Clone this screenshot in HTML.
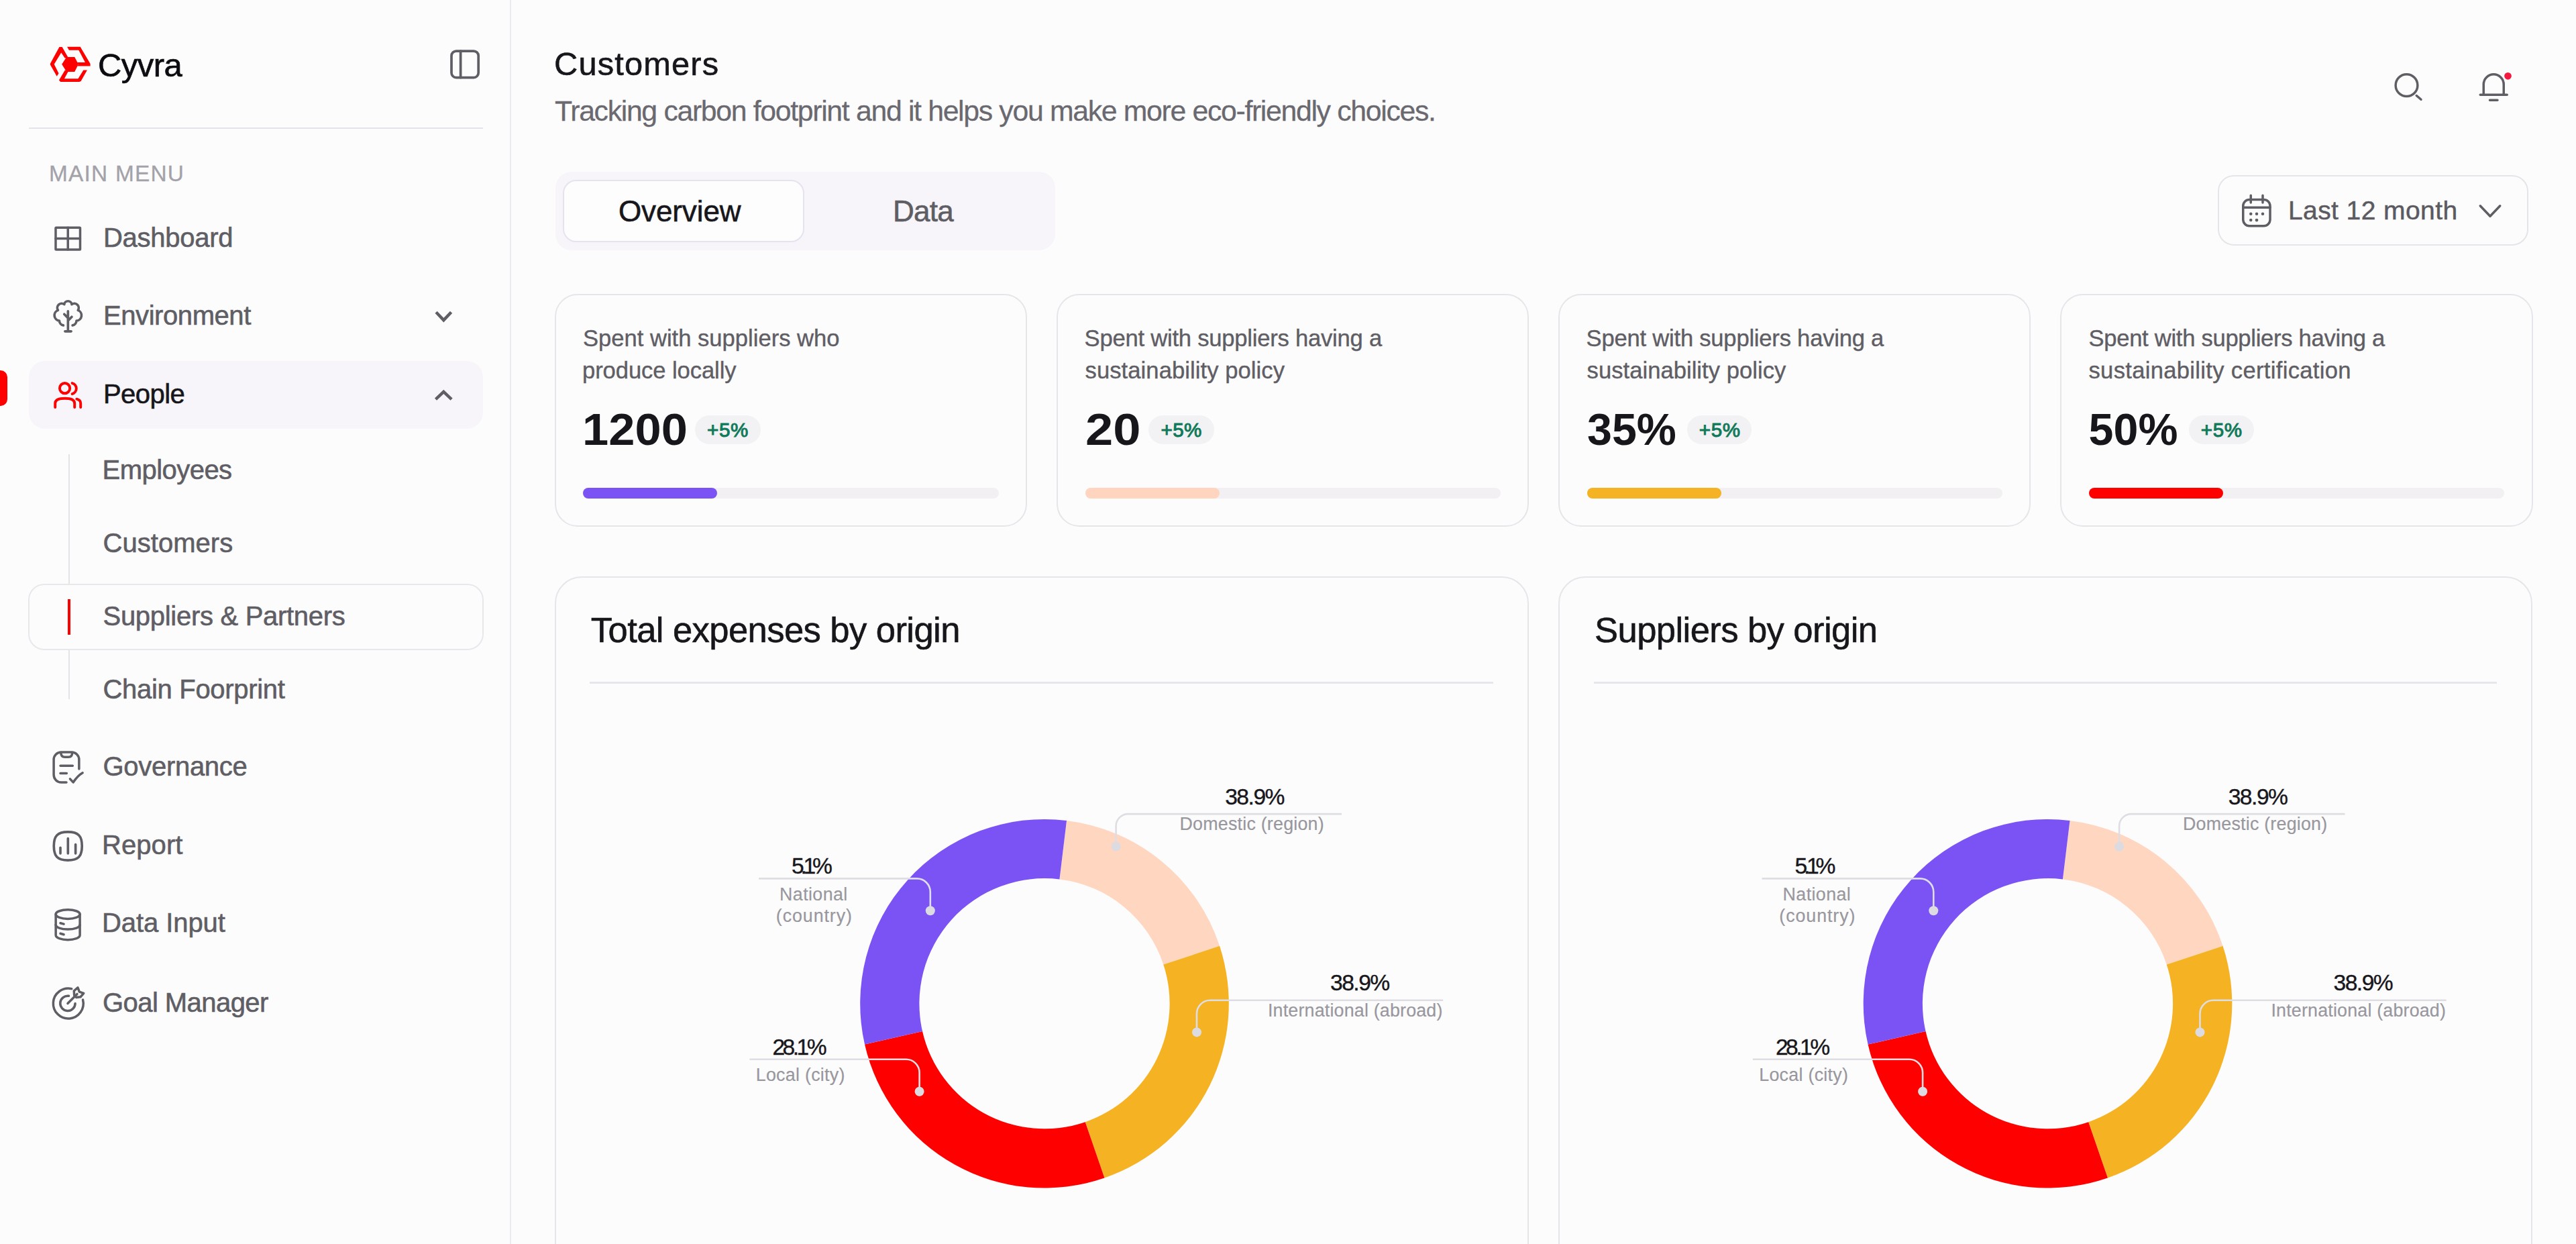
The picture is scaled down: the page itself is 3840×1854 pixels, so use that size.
<!DOCTYPE html>
<html><head><meta charset="utf-8"><title>Cyvra - Customers</title>
<style>
html,body{margin:0;padding:0;}
body{width:1920px;height:927px;overflow:hidden;background:#fdfcfd;font-family:"Liberation Sans",sans-serif;position:relative;}
@media (min-width:2500px){html{zoom:2;}}
.t{position:absolute;white-space:nowrap;}
.r{position:absolute;}
.badge{display:inline-block;vertical-align:top;margin-left:7px;margin-top:-1px;height:21.6px;line-height:21.6px;padding:0 9.5px;border-radius:11px;background:#f2f1f4;color:#0f7a59;font-size:15.4px;font-weight:700;letter-spacing:0.3px;position:relative;top:2px}
</style></head><body>
<div class="r" style="left:380.00px;top:0.00px;width:1.20px;height:927.00px;background:#ebeaee"></div>
<svg class="r" style="left:30px;top:25px;width:120px;height:58px" viewBox="0 0 2574 1244">
<g fill="#ff0000">
<polygon points="305,215 350,215 445,380 395,395 335,305 222,490 295,635 265,685 160,500 160,480"/>
<polygon points="345,490 420,375 550,375 610,490 550,612 420,612"/>
<polygon points="430,212 640,212 800,482 800,520 595,520 610,490 590,460 718,460 615,265 460,265"/>
<polygon points="300,745 395,585 445,612 385,720 605,720 690,585 750,585 650,762 625,772 325,772"/>
</g></svg>
<div class="t" id="e_Cyvra" style="left:73.00px;top:36.51px;font-size:24.50px;line-height:24.50px;color:#0d0c11;font-weight:400;letter-spacing:-0.276px;-webkit-text-stroke:0.35px #0d0c11;">Cyvra</div>
<div class="r" style="left:21.50px;top:95.00px;width:338.50px;height:1.20px;background:#e4e3e8"></div>
<div class="t" id="e_MAIN_MENU" style="left:36.50px;top:120.86px;font-size:16.70px;line-height:16.70px;color:#a3a2a8;font-weight:400;letter-spacing:0.617px;-webkit-text-stroke:0.15px #a3a2a8;">MAIN MENU</div>
<div class="r" style="left:21.65px;top:269.10px;width:338.35px;height:50.40px;background:#f7f5f9;border-radius:12px"></div>
<div class="r" style="left:0.00px;top:275.90px;width:5.30px;height:26.80px;background:#ff0000;border-radius:0 5px 5px 0"></div>
<div class="r" style="left:50.90px;top:338.70px;width:1.20px;height:182.30px;background:#e4e3e8"></div>
<div class="r" style="left:20.75px;top:435.00px;width:339.75px;height:49.50px;background:#fdfcfd;border:1.2px solid #e9e7ec;border-radius:12px;box-sizing:border-box"></div>
<div class="r" style="left:50.50px;top:446.50px;width:1.80px;height:26.50px;background:#ff0000"></div>
<div class="t" id="e_side_Dashboard" style="left:77.00px;top:166.82px;font-size:20.00px;line-height:20.00px;color:#5f5e65;font-weight:400;letter-spacing:-0.138px;-webkit-text-stroke:0.3px #5f5e65;">Dashboard</div>
<div class="t" id="e_side_Environment" style="left:77.00px;top:224.87px;font-size:20.00px;line-height:20.00px;color:#5f5e65;font-weight:400;letter-spacing:-0.213px;-webkit-text-stroke:0.3px #5f5e65;">Environment</div>
<div class="t" id="e_side_People" style="left:77.00px;top:283.57px;font-size:20.00px;line-height:20.00px;color:#17161b;font-weight:400;letter-spacing:-0.284px;-webkit-text-stroke:0.3px #17161b;">People</div>
<div class="t" id="e_side_Employees" style="left:76.25px;top:340.07px;font-size:20.00px;line-height:20.00px;color:#5f5e65;font-weight:400;letter-spacing:-0.266px;-webkit-text-stroke:0.3px #5f5e65;">Employees</div>
<div class="t" id="e_side_Customers" style="left:76.75px;top:394.32px;font-size:20.00px;line-height:20.00px;color:#5f5e65;font-weight:400;letter-spacing:0.022px;-webkit-text-stroke:0.3px #5f5e65;">Customers</div>
<div class="t" id="e_side_Suppliers_amp_Partners" style="left:76.75px;top:448.82px;font-size:20.00px;line-height:20.00px;color:#5f5e65;font-weight:400;letter-spacing:-0.147px;-webkit-text-stroke:0.3px #5f5e65;">Suppliers &amp; Partners</div>
<div class="t" id="e_side_Chain_Foorprint" style="left:76.75px;top:503.57px;font-size:20.00px;line-height:20.00px;color:#5f5e65;font-weight:400;letter-spacing:-0.152px;-webkit-text-stroke:0.3px #5f5e65;">Chain Foorprint</div>
<div class="t" id="e_side_Governance" style="left:76.75px;top:561.07px;font-size:20.00px;line-height:20.00px;color:#5f5e65;font-weight:400;letter-spacing:-0.149px;-webkit-text-stroke:0.3px #5f5e65;">Governance</div>
<div class="t" id="e_side_Report" style="left:76.00px;top:619.37px;font-size:20.00px;line-height:20.00px;color:#5f5e65;font-weight:400;letter-spacing:0.032px;-webkit-text-stroke:0.3px #5f5e65;">Report</div>
<div class="t" id="e_side_Data_Input" style="left:76.00px;top:677.67px;font-size:20.00px;line-height:20.00px;color:#5f5e65;font-weight:400;letter-spacing:-0.038px;-webkit-text-stroke:0.3px #5f5e65;">Data Input</div>
<div class="t" id="e_side_Goal_Manager" style="left:76.50px;top:737.07px;font-size:20.00px;line-height:20.00px;color:#5f5e65;font-weight:400;letter-spacing:-0.278px;-webkit-text-stroke:0.3px #5f5e65;">Goal Manager</div>
<div class="t" id="e_title" style="left:413.00px;top:35.60px;font-size:24.40px;line-height:24.40px;color:#17161b;font-weight:400;letter-spacing:0.578px;-webkit-text-stroke:0.3px #17161b;">Customers</div>
<div class="t" id="e_subtitle" style="left:413.50px;top:72.13px;font-size:21.40px;line-height:21.40px;color:#6a6970;font-weight:400;letter-spacing:-0.668px;-webkit-text-stroke:0.15px #6a6970;">Tracking carbon footprint and it helps you make more eco-friendly choices.</div>
<div class="r" style="left:413.75px;top:128.00px;width:372.75px;height:58.25px;background:#f7f5f9;border-radius:12px"></div>
<div class="r" style="left:419.50px;top:133.75px;width:179.75px;height:46.75px;background:#fefdfe;border:1.3px solid #e6e3f0;border-radius:10px;box-sizing:border-box"></div>
<div class="t" id="e_Overview" style="left:461.00px;top:146.38px;font-size:22.00px;line-height:22.00px;color:#17161b;font-weight:400;letter-spacing:-0.062px;-webkit-text-stroke:0.3px #17161b;">Overview</div>
<div class="t" id="e_Data" style="left:665.50px;top:146.38px;font-size:22.00px;line-height:22.00px;color:#5e5d64;font-weight:400;letter-spacing:-0.359px;-webkit-text-stroke:0.3px #5e5d64;">Data</div>
<div class="r" style="left:1653.00px;top:130.60px;width:231.60px;height:52.50px;background:#fdfcfd;border:1.2px solid #e6e4ea;border-radius:12px;box-sizing:border-box"></div>
<div class="t" id="e_Last_12_month" style="left:1705.50px;top:146.99px;font-size:19.50px;line-height:19.50px;color:#5b5a61;font-weight:400;letter-spacing:0.207px;-webkit-text-stroke:0.25px #5b5a61;">Last 12 month</div>
<div class="r" style="left:413.45px;top:218.80px;width:352.10px;height:173.60px;background:#fdfcfd;border:1.3px solid #e7e5ea;border-radius:17px;box-sizing:border-box"></div>
<div class="t" id="e_k0l1" style="left:434.50px;top:243.56px;font-size:17.30px;line-height:17.30px;color:#5f5e65;font-weight:400;letter-spacing:0.000px;-webkit-text-stroke:0.2px #5f5e65;">Spent with suppliers who</div>
<div class="t" id="e_k0l2" style="left:434.00px;top:267.56px;font-size:17.30px;line-height:17.30px;color:#5f5e65;font-weight:400;letter-spacing:-0.038px;-webkit-text-stroke:0.2px #5f5e65;">produce locally</div>
<div class="t" id="e_k0v" style="left:433.80px;top:303.70px;font-size:33.20px;line-height:33.20px;color:#17161b;font-weight:700;letter-spacing:0.000px;transform:scaleX(1.0620);transform-origin:0 0;">1200</div>
<div class="r" style="left:518.00px;top:309.60px;width:49.00px;height:21.60px;background:#f2f1f4;border-radius:11px"></div>
<div class="t" id="e_k0b" style="left:527.00px;top:312.77px;font-size:14.80px;line-height:14.80px;color:#0f7a59;font-weight:400;letter-spacing:0.328px;-webkit-text-stroke:0.5px #0f7a59">+5%</div>
<div class="r" style="left:434.70px;top:363.50px;width:309.60px;height:8.00px;background:#f2f0f3;border-radius:4px"></div>
<div class="r" style="left:434.70px;top:363.50px;width:100.00px;height:8.00px;background:#7b53f4;border-radius:4px"></div>
<div class="r" style="left:787.50px;top:218.80px;width:352.10px;height:173.60px;background:#fdfcfd;border:1.3px solid #e7e5ea;border-radius:17px;box-sizing:border-box"></div>
<div class="t" id="e_k1l1" style="left:808.30px;top:243.56px;font-size:17.30px;line-height:17.30px;color:#5f5e65;font-weight:400;letter-spacing:-0.111px;-webkit-text-stroke:0.2px #5f5e65;">Spent with suppliers having a</div>
<div class="t" id="e_k1l2" style="left:808.80px;top:267.56px;font-size:17.30px;line-height:17.30px;color:#5f5e65;font-weight:400;letter-spacing:0.035px;-webkit-text-stroke:0.2px #5f5e65;">sustainability policy</div>
<div class="t" id="e_k1v" style="left:809.00px;top:303.70px;font-size:33.20px;line-height:33.20px;color:#17161b;font-weight:700;letter-spacing:0.000px;transform:scaleX(1.1159);transform-origin:0 0;">20</div>
<div class="r" style="left:856.00px;top:309.60px;width:48.75px;height:21.60px;background:#f2f1f4;border-radius:11px"></div>
<div class="t" id="e_k1b" style="left:865.30px;top:312.77px;font-size:14.80px;line-height:14.80px;color:#0f7a59;font-weight:400;letter-spacing:0.141px;-webkit-text-stroke:0.5px #0f7a59">+5%</div>
<div class="r" style="left:808.75px;top:363.50px;width:309.60px;height:8.00px;background:#f2f0f3;border-radius:4px"></div>
<div class="r" style="left:808.75px;top:363.50px;width:100.00px;height:8.00px;background:#ffd5c0;border-radius:4px"></div>
<div class="r" style="left:1161.55px;top:218.80px;width:352.10px;height:173.60px;background:#fdfcfd;border:1.3px solid #e7e5ea;border-radius:17px;box-sizing:border-box"></div>
<div class="t" id="e_k2l1" style="left:1182.30px;top:243.56px;font-size:17.30px;line-height:17.30px;color:#5f5e65;font-weight:400;letter-spacing:-0.108px;-webkit-text-stroke:0.2px #5f5e65;">Spent with suppliers having a</div>
<div class="t" id="e_k2l2" style="left:1182.80px;top:267.56px;font-size:17.30px;line-height:17.30px;color:#5f5e65;font-weight:400;letter-spacing:0.018px;-webkit-text-stroke:0.2px #5f5e65;">sustainability policy</div>
<div class="t" id="e_k2v" style="left:1183.00px;top:303.70px;font-size:33.20px;line-height:33.20px;color:#17161b;font-weight:700;letter-spacing:0.000px;transform:scaleX(1.0000);transform-origin:0 0;">35%</div>
<div class="r" style="left:1257.25px;top:309.60px;width:48.35px;height:21.60px;background:#f2f1f4;border-radius:11px"></div>
<div class="t" id="e_k2b" style="left:1266.40px;top:312.77px;font-size:14.80px;line-height:14.80px;color:#0f7a59;font-weight:400;letter-spacing:0.328px;-webkit-text-stroke:0.5px #0f7a59">+5%</div>
<div class="r" style="left:1182.80px;top:363.50px;width:309.60px;height:8.00px;background:#f2f0f3;border-radius:4px"></div>
<div class="r" style="left:1182.80px;top:363.50px;width:100.00px;height:8.00px;background:#f5b323;border-radius:4px"></div>
<div class="r" style="left:1535.70px;top:218.80px;width:352.10px;height:173.60px;background:#fdfcfd;border:1.3px solid #e7e5ea;border-radius:17px;box-sizing:border-box"></div>
<div class="t" id="e_k3l1" style="left:1556.75px;top:243.56px;font-size:17.30px;line-height:17.30px;color:#5f5e65;font-weight:400;letter-spacing:-0.142px;-webkit-text-stroke:0.2px #5f5e65;">Spent with suppliers having a</div>
<div class="t" id="e_k3l2" style="left:1556.75px;top:267.56px;font-size:17.30px;line-height:17.30px;color:#5f5e65;font-weight:400;letter-spacing:0.158px;-webkit-text-stroke:0.2px #5f5e65;">sustainability certification</div>
<div class="t" id="e_k3v" style="left:1556.80px;top:303.70px;font-size:33.20px;line-height:33.20px;color:#17161b;font-weight:700;letter-spacing:0.000px;transform:scaleX(1.0000);transform-origin:0 0;">50%</div>
<div class="r" style="left:1631.25px;top:309.60px;width:48.75px;height:21.60px;background:#f2f1f4;border-radius:11px"></div>
<div class="t" id="e_k3b" style="left:1640.40px;top:312.77px;font-size:14.80px;line-height:14.80px;color:#0f7a59;font-weight:400;letter-spacing:0.328px;-webkit-text-stroke:0.5px #0f7a59">+5%</div>
<div class="r" style="left:1556.95px;top:363.50px;width:309.60px;height:8.00px;background:#f2f0f3;border-radius:4px"></div>
<div class="r" style="left:1556.95px;top:363.50px;width:100.00px;height:8.00px;background:#ff0000;border-radius:4px"></div>
<div class="r" style="left:413.45px;top:429.50px;width:725.95px;height:600.00px;background:#fdfcfd;border:1.3px solid #e7e5ea;border-radius:20px;box-sizing:border-box"></div>
<div class="t" id="e_ctitle" style="left:440.40px;top:456.49px;font-size:26.30px;line-height:26.30px;color:#17161b;font-weight:400;letter-spacing:-0.297px;-webkit-text-stroke:0.3px #17161b;">Total expenses by origin</div>
<div class="r" style="left:439.70px;top:508.20px;width:673.45px;height:1.20px;background:#e8e6ec"></div>
<div class="r" style="left:1161.55px;top:429.50px;width:725.95px;height:600.00px;background:#fdfcfd;border:1.3px solid #e7e5ea;border-radius:20px;box-sizing:border-box"></div>
<div class="t" id="e_ctitle" style="left:1188.50px;top:456.49px;font-size:26.30px;line-height:26.30px;color:#17161b;font-weight:400;letter-spacing:-0.297px;-webkit-text-stroke:0.3px #17161b;">Suppliers by origin</div>
<div class="r" style="left:1187.80px;top:508.20px;width:673.45px;height:1.20px;background:#e8e6ec"></div>
<svg class="r" style="left:0;top:0;width:1920px;height:927px" viewBox="0 0 1920 927"><path d="M795.007,611.445 A137.4,137.4 0 0 1 909.026,704.935 L867.132,718.709 A93.3,93.3 0 0 0 789.709,655.226 Z" fill="#ffd6c0"/><path d="M909.026,704.935 A137.4,137.4 0 0 1 823.233,877.764 L808.876,836.067 A93.3,93.3 0 0 0 867.132,718.709 Z" fill="#f5b324"/><path d="M823.233,877.764 A137.4,137.4 0 0 1 644.514,778.291 L687.519,768.520 A93.3,93.3 0 0 0 808.876,836.067 Z" fill="#ff0000"/><path d="M644.514,778.291 A137.4,137.4 0 0 1 795.007,611.445 L789.709,655.226 A93.3,93.3 0 0 0 687.519,768.520 Z" fill="#7b53f4"/><g fill="none" stroke="#dedde3" stroke-width="1.3">
<path d="M831.8,630.9 V615.55 A9,9 0 0 1 840.8,606.55 H1000.0" />
<path d="M892.0,769.2 V755.4 A10,10 0 0 1 902.0,745.4 H1075.6" />
<path d="M693.4,678.6 V664.7 A10,10 0 0 0 683.4,654.7 H565.5" />
<path d="M685.3,813.35 V799.4 A10,10 0 0 0 675.3,789.4 H558.7" />
</g><circle cx="831.8" cy="630.9" r="3.5" fill="#dcdbe2"/><circle cx="892.0" cy="769.2" r="3.5" fill="#dcdbe2"/><circle cx="693.4" cy="678.6" r="3.5" fill="#dcdbe2"/><circle cx="685.3" cy="813.35" r="3.5" fill="#dcdbe2"/></svg>
<div class="t" id="e_p1" style="left:785.40px;width:300px;text-align:center;top:585.38px;font-size:16.80px;line-height:16.80px;color:#18171c;font-weight:400;letter-spacing:-0.734px;text-indent:-0.734px;-webkit-text-stroke:0.2px #18171c;">38.9%</div>
<div class="t" id="e_l1" style="left:783.05px;width:300px;text-align:center;top:607.56px;font-size:13.40px;line-height:13.40px;color:#98979d;font-weight:400;letter-spacing:0.113px;text-indent:0.113px;-webkit-text-stroke:0.1px #98979d;">Domestic (region)</div>
<div class="t" id="e_p2" style="left:863.80px;width:300px;text-align:center;top:724.08px;font-size:16.80px;line-height:16.80px;color:#18171c;font-weight:400;letter-spacing:-0.766px;text-indent:-0.766px;-webkit-text-stroke:0.2px #18171c;">38.9%</div>
<div class="t" id="e_l2" style="left:860.10px;width:300px;text-align:center;top:746.36px;font-size:13.40px;line-height:13.40px;color:#98979d;font-weight:400;letter-spacing:0.101px;text-indent:0.101px;-webkit-text-stroke:0.1px #98979d;">International (abroad)</div>
<div class="t" id="e_p3" style="left:455.20px;width:300px;text-align:center;top:637.03px;font-size:16.80px;line-height:16.80px;color:#18171c;font-weight:400;letter-spacing:-2.636px;text-indent:-2.636px;-webkit-text-stroke:0.2px #18171c;">5.1%</div>
<div class="t" id="e_l3" style="left:456.35px;width:300px;text-align:center;top:659.76px;font-size:13.40px;line-height:13.40px;color:#98979d;font-weight:400;letter-spacing:0.201px;text-indent:0.201px;-webkit-text-stroke:0.1px #98979d;">National</div>
<div class="t" id="e_l4" style="left:456.70px;width:300px;text-align:center;top:675.91px;font-size:13.40px;line-height:13.40px;color:#98979d;font-weight:400;letter-spacing:0.466px;text-indent:0.466px;-webkit-text-stroke:0.1px #98979d;">(country)</div>
<div class="t" id="e_p4" style="left:446.00px;width:300px;text-align:center;top:771.78px;font-size:16.80px;line-height:16.80px;color:#18171c;font-weight:400;letter-spacing:-1.750px;text-indent:-1.750px;-webkit-text-stroke:0.2px #18171c;">28.1%</div>
<div class="t" id="e_l5" style="left:446.55px;width:300px;text-align:center;top:794.46px;font-size:13.40px;line-height:13.40px;color:#98979d;font-weight:400;letter-spacing:0.147px;text-indent:0.147px;-webkit-text-stroke:0.1px #98979d;">Local (city)</div>
<svg class="r" style="left:0;top:0;width:1920px;height:927px" viewBox="0 0 1920 927"><path d="M1542.757,611.445 A137.4,137.4 0 0 1 1656.776,704.935 L1614.882,718.709 A93.3,93.3 0 0 0 1537.459,655.226 Z" fill="#ffd6c0"/><path d="M1656.776,704.935 A137.4,137.4 0 0 1 1570.983,877.764 L1556.626,836.067 A93.3,93.3 0 0 0 1614.882,718.709 Z" fill="#f5b324"/><path d="M1570.983,877.764 A137.4,137.4 0 0 1 1392.264,778.291 L1435.269,768.520 A93.3,93.3 0 0 0 1556.626,836.067 Z" fill="#ff0000"/><path d="M1392.264,778.291 A137.4,137.4 0 0 1 1542.757,611.445 L1537.459,655.226 A93.3,93.3 0 0 0 1435.269,768.520 Z" fill="#7b53f4"/><g fill="none" stroke="#dedde3" stroke-width="1.3">
<path d="M1579.55,630.9 V615.55 A9,9 0 0 1 1588.55,606.55 H1747.75" />
<path d="M1639.75,769.2 V755.4 A10,10 0 0 1 1649.75,745.4 H1823.35" />
<path d="M1441.15,678.6 V664.7 A10,10 0 0 0 1431.15,654.7 H1313.25" />
<path d="M1433.05,813.35 V799.4 A10,10 0 0 0 1423.05,789.4 H1306.45" />
</g><circle cx="1579.55" cy="630.9" r="3.5" fill="#dcdbe2"/><circle cx="1639.75" cy="769.2" r="3.5" fill="#dcdbe2"/><circle cx="1441.15" cy="678.6" r="3.5" fill="#dcdbe2"/><circle cx="1433.05" cy="813.35" r="3.5" fill="#dcdbe2"/></svg>
<div class="t" id="e_p1" style="left:1533.15px;width:300px;text-align:center;top:585.38px;font-size:16.80px;line-height:16.80px;color:#18171c;font-weight:400;letter-spacing:-0.734px;text-indent:-0.734px;-webkit-text-stroke:0.2px #18171c;">38.9%</div>
<div class="t" id="e_l1" style="left:1530.80px;width:300px;text-align:center;top:607.56px;font-size:13.40px;line-height:13.40px;color:#98979d;font-weight:400;letter-spacing:0.113px;text-indent:0.113px;-webkit-text-stroke:0.1px #98979d;">Domestic (region)</div>
<div class="t" id="e_p2" style="left:1611.55px;width:300px;text-align:center;top:724.08px;font-size:16.80px;line-height:16.80px;color:#18171c;font-weight:400;letter-spacing:-0.766px;text-indent:-0.766px;-webkit-text-stroke:0.2px #18171c;">38.9%</div>
<div class="t" id="e_l2" style="left:1607.85px;width:300px;text-align:center;top:746.36px;font-size:13.40px;line-height:13.40px;color:#98979d;font-weight:400;letter-spacing:0.101px;text-indent:0.101px;-webkit-text-stroke:0.1px #98979d;">International (abroad)</div>
<div class="t" id="e_p3" style="left:1202.95px;width:300px;text-align:center;top:637.03px;font-size:16.80px;line-height:16.80px;color:#18171c;font-weight:400;letter-spacing:-2.636px;text-indent:-2.636px;-webkit-text-stroke:0.2px #18171c;">5.1%</div>
<div class="t" id="e_l3" style="left:1204.10px;width:300px;text-align:center;top:659.76px;font-size:13.40px;line-height:13.40px;color:#98979d;font-weight:400;letter-spacing:0.201px;text-indent:0.201px;-webkit-text-stroke:0.1px #98979d;">National</div>
<div class="t" id="e_l4" style="left:1204.45px;width:300px;text-align:center;top:675.91px;font-size:13.40px;line-height:13.40px;color:#98979d;font-weight:400;letter-spacing:0.466px;text-indent:0.466px;-webkit-text-stroke:0.1px #98979d;">(country)</div>
<div class="t" id="e_p4" style="left:1193.75px;width:300px;text-align:center;top:771.78px;font-size:16.80px;line-height:16.80px;color:#18171c;font-weight:400;letter-spacing:-1.750px;text-indent:-1.750px;-webkit-text-stroke:0.2px #18171c;">28.1%</div>
<div class="t" id="e_l5" style="left:1194.30px;width:300px;text-align:center;top:794.46px;font-size:13.40px;line-height:13.40px;color:#98979d;font-weight:400;letter-spacing:0.147px;text-indent:0.147px;-webkit-text-stroke:0.1px #98979d;">Local (city)</div>
<svg class="r" style="left:0;top:0;width:1920px;height:927px;z-index:5" viewBox="0 0 1920 927" fill="none" stroke-linecap="round" stroke-linejoin="round"><g transform="translate(320.0000,25.0000) scale(0.023310)" stroke="#5f5e65" stroke-width="80"><rect x="708" y="558" width="862" height="848" rx="150"/><path d="M1000 558V1406"/></g><g transform="translate(0.0000,150.0000) scale(0.125000)" stroke="#5f5e65" stroke-width="14"><rect x="332" y="157" width="146" height="131" rx="3"/><path d="M405 157V288M332 222H478"/></g><g transform="translate(30.0000,215.0000) scale(0.028137)" stroke="#5f5e65" stroke-width="65"><path d="M735 600V1135M655 1135H820M635 680L735 780M835 750L735 850"/><path d="M612 975A130 130 0 0 1 505 855A145 145 0 0 1 470 575A115 115 0 0 1 635 420A101 101 0 0 1 835 420A115 115 0 0 1 1000 575A145 145 0 0 1 960 855A130 130 0 0 1 855 975"/></g><g transform="translate(0.0000,150.0000) scale(0.160756)" stroke="#5f5e65" stroke-width="14"><path stroke-linecap="butt" stroke-linejoin="miter" d="M2022 514L2057 551L2092 514"/></g><g transform="translate(30.0000,277.5000) scale(0.028137)" stroke="#ff0000" stroke-width="70"><circle cx="650" cy="420" r="135"/><path d="M845 285A147 147 0 0 1 845 570"/><path d="M395 925V820C395 740 480 690 652 690C825 690 910 740 910 820V925"/><path d="M965 705C1040 725 1070 760 1070 820V925"/></g><g transform="translate(0.0000,260.0000) scale(0.151396)" stroke="#5f5e65" stroke-width="15"><path stroke-linecap="butt" stroke-linejoin="miter" d="M2145 248L2184 211L2223 248"/></g><g transform="translate(30.0000,550.0000) scale(0.038986)" stroke="#5f5e65" stroke-width="45"><path d="M500 845H400A142 142 0 0 1 258 703V412A142 142 0 0 1 400 270H600A142 142 0 0 1 742 412V590"/><path d="M395 275C395 330 420 362 470 362H540C590 362 612 330 612 275"/><path d="M385 530H620M385 672H505"/><path d="M570 780L630 845C690 760 740 705 810 665"/></g><g transform="translate(30.0000,610.0000) scale(0.038986)" stroke="#5f5e65" stroke-width="47"><path d="M260 526C260 330 330 255 529 255S798 330 798 526S728 797 529 797S260 722 260 526Z"/><path d="M385 555V665M530 380V665M675 495V665"/></g><g transform="translate(30.0000,670.0000) scale(0.038986)" stroke="#5f5e65" stroke-width="45"><ellipse cx="527.5" cy="290" rx="230.5" ry="88"/><path d="M297 290V690A230.5 88 0 0 0 758 690V290"/><path d="M297 490A230.5 88 0 0 0 758 490"/><path d="M385 458L450 476M385 658L450 676"/></g><g transform="translate(30.0000,730.0000) scale(0.038986)" stroke="#5f5e65" stroke-width="45"><path d="M600 175A288 288 0 1 0 815 385"/><path d="M545 312A143 143 0 1 0 668 455"/><path d="M525 455L705 275"/><path d="M650 300L645 215L718 152L748 232L830 262L770 330L690 340Z"/></g><g transform="translate(1598.0000,30.0000) scale(0.125000)" stroke="#5f5e65" stroke-width="14"><circle cx="1566" cy="268.5" r="65.5"/><path d="M1625 330L1652 353"/></g><g transform="translate(1598.0000,30.0000) scale(0.125000)" stroke="#5f5e65" stroke-width="14"><path d="M2005 325H2165M2025 325V263A60 60 0 0 1 2145 263V325M2062 357H2108"/><circle cx="2170" cy="213" r="26" fill="#f5193f" stroke="#fdfcfd" stroke-width="9"/></g><g transform="translate(1598.0000,30.0000) scale(0.125000)" stroke="#5f5e65" stroke-width="14"><rect x="591" y="950" width="161" height="157" rx="38"/><path d="M591 997H752M637 925V968M708 925V968"/><g fill="#5f5e65" stroke="none"><circle cx="637" cy="1035" r="9"/><circle cx="672" cy="1035" r="9"/><circle cx="708" cy="1035" r="9"/><circle cx="637" cy="1072" r="9"/><circle cx="672" cy="1072" r="9.5"/></g></g><g transform="translate(1598.0000,30.0000) scale(0.125000)" stroke="#5f5e65" stroke-width="14"><path d="M2005 987L2064 1049L2123 987"/></g></svg>
</body></html>
